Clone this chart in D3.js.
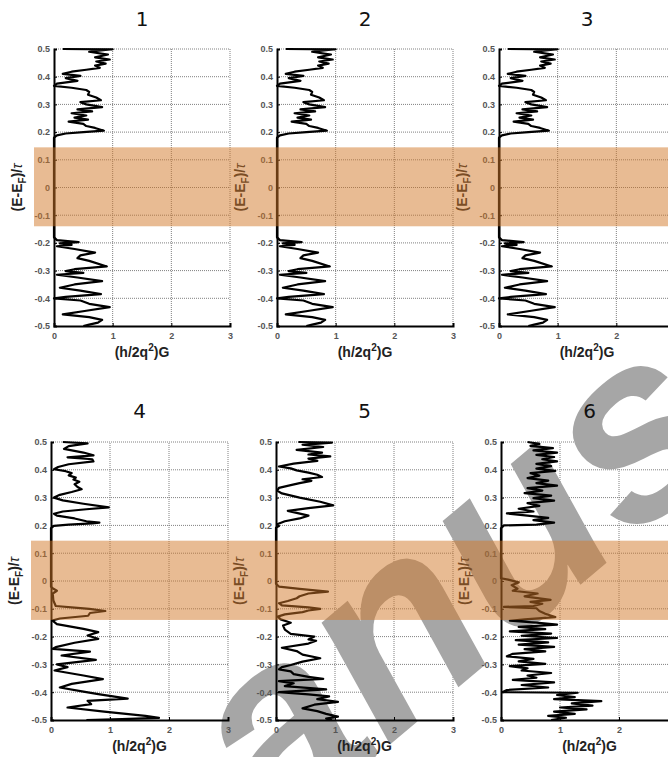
<!DOCTYPE html>
<html>
<head>
<meta charset="utf-8">
<script src="https://cdn.jsdelivr.net/npm/d3@7"></script>
<style>
  body { margin: 0; background: #fff; }
  svg { display: block; }
</style>
</head>
<body>
<svg id="fig" width="668" height="757"></svg>
<script>
// Panel titles, axis ticks and the highlighted energy window
const panelTitles = ["1", "2", "3", "4", "5", "6"];
const yTicks = [-0.5, -0.4, -0.3, -0.2, -0.1, 0, 0.1, 0.2, 0.3, 0.4, 0.5];
const xTicks = [0, 1, 2, 3];
const gapWindow = [-0.14, 0.145];

// Conductance curves: [energy (E-EF)/tau, (h/2q^2)G], ordered from top to bottom
const curve1 = [
  [0.500, 0.15], [0.499, 1.00], [0.490, 0.60], [0.480, 0.92], [0.470, 0.70], [0.462, 0.95],
  [0.455, 0.72], [0.447, 0.88], [0.440, 0.70], [0.432, 0.78], [0.425, 0.55], [0.418, 0.30],
  [0.410, 0.15], [0.403, 0.45], [0.395, 0.20], [0.385, 0.40], [0.375, 0.05], [0.367, 0.00],
  [0.360, 0.30], [0.352, 0.55], [0.345, 0.60], [0.335, 0.58], [0.325, 0.72], [0.315, 0.80],
  [0.308, 0.45], [0.300, 0.55], [0.290, 0.82], [0.282, 0.40], [0.275, 0.65], [0.268, 0.30],
  [0.260, 0.55], [0.252, 0.35], [0.245, 0.58], [0.238, 0.25], [0.230, 0.50], [0.222, 0.55],
  [0.215, 0.70], [0.205, 0.85], [0.200, 0.50], [0.195, 0.20], [0.188, 0.05], [0.180, 0.00],
  [-0.180, 0.00], [-0.190, 0.05], [-0.197, 0.42], [-0.202, 0.10], [-0.207, 0.30], [-0.212, 0.05],
  [-0.222, 0.35], [-0.235, 0.70], [-0.245, 0.45], [-0.255, 0.40], [-0.265, 0.60], [-0.285, 0.90],
  [-0.295, 0.35], [-0.302, 0.20], [-0.308, 0.50], [-0.315, 0.05], [-0.325, 0.40], [-0.338, 0.82],
  [-0.350, 0.35], [-0.362, 0.10], [-0.372, 0.45], [-0.385, 0.80], [-0.395, 0.20], [-0.400, 0.00],
  [-0.408, 0.45], [-0.420, 0.60], [-0.432, 0.95], [-0.445, 0.55], [-0.458, 0.15], [-0.468, 0.60],
  [-0.478, 0.82], [-0.488, 0.75], [-0.495, 0.60], [-0.500, 0.50]
];
const curve2 = curve1;
const curve3 = curve1;

const curve4 = [
  [0.500, 0.20], [0.495, 0.62], [0.485, 0.30], [0.475, 0.22], [0.462, 0.55], [0.452, 0.72],
  [0.445, 0.28], [0.438, 0.70], [0.430, 0.72], [0.420, 0.30], [0.410, 0.12], [0.402, 0.05],
  [0.395, 0.25], [0.388, 0.35], [0.380, 0.30], [0.372, 0.42], [0.365, 0.38], [0.357, 0.48],
  [0.348, 0.40], [0.338, 0.45], [0.330, 0.52], [0.320, 0.35], [0.310, 0.15], [0.300, 0.05],
  [0.290, 0.20], [0.278, 0.55], [0.265, 0.98], [0.258, 0.60], [0.250, 0.20], [0.242, 0.05],
  [0.235, 0.10], [0.225, 0.40], [0.215, 0.60], [0.210, 0.82], [0.207, 0.70], [0.203, 0.30],
  [0.198, 0.05], [0.190, 0.00], [-0.020, 0.00], [-0.025, 0.02], [-0.035, 0.10], [-0.045, 0.03],
  [-0.070, 0.04], [-0.090, 0.08], [-0.097, 0.45], [-0.100, 0.65], [-0.108, 0.92], [-0.115, 0.66],
  [-0.125, 0.63], [-0.135, 0.15], [-0.142, 0.02], [-0.155, 0.10], [-0.172, 0.55], [-0.184, 0.80],
  [-0.196, 0.62], [-0.208, 0.80], [-0.222, 0.40], [-0.238, 0.08], [-0.244, 0.03], [-0.254, 0.66],
  [-0.268, 0.18], [-0.284, 0.76], [-0.300, 0.10], [-0.310, 0.28], [-0.322, 0.06], [-0.340, 0.55],
  [-0.353, 0.88], [-0.370, 0.35], [-0.383, 0.15], [-0.398, 0.55], [-0.407, 0.80], [-0.423, 1.30],
  [-0.431, 0.62], [-0.443, 0.68], [-0.455, 0.28], [-0.470, 0.90], [-0.485, 1.60], [-0.492, 1.83],
  [-0.497, 1.20], [-0.500, 0.60]
];

const curve5 = [
  [0.500, 0.38], [0.498, 0.95], [0.490, 0.45], [0.482, 0.80], [0.472, 0.35], [0.462, 0.78],
  [0.455, 0.55], [0.448, 0.92], [0.440, 0.55], [0.432, 0.70], [0.422, 0.30], [0.412, 0.05],
  [0.405, 0.25], [0.398, 0.35], [0.390, 0.55], [0.382, 0.70], [0.374, 0.78], [0.366, 0.45],
  [0.360, 0.60], [0.352, 0.40], [0.345, 0.25], [0.335, 0.05], [0.325, 0.02], [0.315, 0.10],
  [0.300, 0.40], [0.285, 0.75], [0.272, 0.97], [0.262, 0.55], [0.252, 0.20], [0.245, 0.35],
  [0.235, 0.55], [0.225, 0.40], [0.215, 0.15], [0.205, 0.03], [0.198, 0.05], [0.192, 0.00],
  [-0.010, 0.00], [-0.020, 0.05], [-0.028, 0.40], [-0.038, 0.88], [-0.045, 0.55], [-0.055, 0.40],
  [-0.062, 0.35], [-0.072, 0.20], [-0.080, 0.05], [-0.088, 0.10], [-0.095, 0.55], [-0.100, 0.75],
  [-0.106, 0.55], [-0.112, 0.45], [-0.120, 0.15], [-0.128, 0.03], [-0.138, 0.08], [-0.150, 0.25],
  [-0.160, 0.12], [-0.175, 0.15], [-0.190, 0.25], [-0.200, 0.65], [-0.210, 0.55], [-0.215, 0.68],
  [-0.225, 0.55], [-0.240, 0.10], [-0.252, 0.35], [-0.265, 0.45], [-0.278, 0.75], [-0.290, 0.45],
  [-0.302, 0.25], [-0.310, 0.10], [-0.318, 0.05], [-0.325, 0.25], [-0.335, 0.30], [-0.345, 0.55],
  [-0.352, 0.80], [-0.360, 0.05], [-0.368, 0.30], [-0.378, 0.15], [-0.390, 0.85], [-0.400, 0.05],
  [-0.408, 0.55], [-0.415, 0.90], [-0.425, 0.70], [-0.435, 1.05], [-0.445, 0.65], [-0.458, 0.45],
  [-0.468, 0.70], [-0.478, 0.85], [-0.488, 1.05], [-0.495, 0.85], [-0.500, 0.95]
];

const curve6 = [
  [0.500, 0.45], [0.493, 0.65], [0.486, 0.50], [0.478, 0.88], [0.470, 0.55], [0.462, 0.95],
  [0.454, 0.60], [0.446, 0.90], [0.438, 0.70], [0.430, 0.95], [0.421, 0.60], [0.413, 0.85],
  [0.404, 0.60], [0.396, 0.92], [0.388, 0.50], [0.379, 0.65], [0.370, 0.45], [0.361, 0.80],
  [0.352, 0.60], [0.343, 0.95], [0.334, 0.45], [0.325, 0.70], [0.316, 0.40], [0.307, 0.85],
  [0.298, 0.55], [0.289, 0.90], [0.280, 0.45], [0.270, 0.65], [0.260, 0.30], [0.250, 0.55],
  [0.243, 0.10], [0.235, 0.45], [0.227, 0.80], [0.219, 0.55], [0.210, 0.90], [0.203, 0.60],
  [0.200, 0.05], [0.190, 0.00], [0.010, 0.00], [0.005, 0.12], [-0.005, 0.30],
  [-0.015, 0.18], [-0.028, 0.28], [-0.035, 0.20], [-0.045, 0.62], [-0.055, 0.40], [-0.068, 0.84],
  [-0.075, 0.50], [-0.082, 0.70], [-0.090, 0.55], [-0.093, 0.05], [-0.098, 0.60], [-0.108, 0.65],
  [-0.118, 0.75], [-0.130, 0.92], [-0.138, 0.40], [-0.143, 0.15], [-0.150, 0.60], [-0.157, 0.95],
  [-0.165, 0.30], [-0.173, 0.75], [-0.181, 0.15], [-0.189, 0.85], [-0.197, 0.35], [-0.205, 0.95],
  [-0.213, 0.25], [-0.221, 0.80], [-0.229, 0.30], [-0.237, 0.90], [-0.245, 0.40], [-0.253, 0.75],
  [-0.262, 0.20], [-0.271, 0.10], [-0.280, 0.55], [-0.289, 0.30], [-0.298, 0.75], [-0.306, 0.15],
  [-0.314, 0.45], [-0.322, 0.35], [-0.331, 0.85], [-0.340, 0.45], [-0.348, 0.60], [-0.356, 0.20],
  [-0.365, 0.90], [-0.374, 0.35], [-0.383, 0.80], [-0.392, 0.10], [-0.400, 0.02], [-0.402, 1.30],
  [-0.410, 0.95], [-0.418, 1.25], [-0.425, 0.90], [-0.432, 1.70], [-0.440, 1.20], [-0.448, 1.55],
  [-0.455, 1.00], [-0.462, 1.45], [-0.470, 0.90], [-0.478, 1.25], [-0.485, 0.80], [-0.492, 1.10],
  [-0.500, 0.85]
];

const curves = [curve1, curve2, curve3, curve4, curve5, curve6];

// Page geometry of the two rows of panels
const rows = [
  { top: 49, bottom: 326, lefts: [54, 277, 499], width: 176, bandLeft: 34, titleY: 26, xLabelY: 357 },
  { top: 442, bottom: 720, lefts: [51, 276, 501], width: 177, bandLeft: 31, titleY: 418, xLabelY: 751 }
];

const svg = d3.select("#fig");
const W = 668;

const gridLayer = svg.append("g");
const markLayer = svg.append("g");
const plotLayer = svg.append("g");
const bandLayer = svg.append("g");

// Watermark lettering running diagonally across the figure
const wm = markLayer.append("text")
  .attr("transform", "translate(-5,1076) rotate(-40)")
  .attr("font-family", "Liberation Sans, Arial, sans-serif")
  .attr("font-style", "italic")
  .attr("font-weight", "bold")
  .attr("font-size", 260)
  .attr("fill", "#a6a6a6");
wm.append("tspan").text("M");
wm.append("tspan").attr("dx", 150).text("anuscript");

const fmtTick = d => (d === 0 ? "0" : d.toFixed(1));

panelTitles.forEach((title, i) => {
  const row = rows[Math.floor(i / 3)];
  const left = row.lefts[i % 3];
  const x = d3.scaleLinear().domain([0, 3]).range([left, left + row.width]);
  const y = d3.scaleLinear().domain([-0.5, 0.5]).range([row.bottom, row.top]);

  // Dotted grid
  const g = gridLayer.append("g");
  g.selectAll("line.h").data(yTicks.filter(v => v > -0.5)).join("line")
    .attr("x1", x(0)).attr("x2", x(3))
    .attr("y1", d => y(d)).attr("y2", d => y(d))
    .attr("stroke", "#808080").attr("stroke-width", 1).attr("stroke-dasharray", "1,1");
  g.selectAll("line.v").data(xTicks.filter(v => v > 0)).join("line")
    .attr("y1", y(-0.5)).attr("y2", y(0.5))
    .attr("x1", d => x(d)).attr("x2", d => x(d))
    .attr("stroke", "#808080").attr("stroke-width", 1).attr("stroke-dasharray", "1,1");

  const p = plotLayer.append("g");

  // Conductance curve
  const line = d3.line().x(d => x(d[1])).y(d => y(d[0]));
  p.append("path")
    .datum(curves[i])
    .attr("d", line)
    .attr("fill", "none")
    .attr("stroke", "#000")
    .attr("stroke-width", 2.2)
    .attr("stroke-linejoin", "round");

  // Axes
  const yAxis = p.append("g")
    .attr("transform", `translate(${x(0)},0)`)
    .call(d3.axisLeft(y).tickValues(yTicks).tickSize(-3).tickPadding(4).tickFormat(fmtTick));
  const xAxis = p.append("g")
    .attr("transform", `translate(0,${y(-0.5)})`)
    .call(d3.axisBottom(x).tickValues(xTicks).tickSize(-3).tickPadding(7).tickFormat(d3.format("d")));
  [yAxis, xAxis].forEach(ax => {
    ax.select(".domain").attr("stroke", "#000").attr("stroke-width", 2);
    ax.selectAll(".tick line").attr("stroke", "#000").attr("stroke-width", 1);
    ax.selectAll(".tick text")
      .attr("fill", "#555")
      .attr("font-family", "Liberation Sans, Arial, sans-serif")
      .attr("font-weight", "bold")
      .attr("font-size", 9);
  });

  // Panel title
  p.append("text")
    .attr("x", (x(0) + x(3)) / 2).attr("y", row.titleY)
    .attr("text-anchor", "middle")
    .attr("font-family", "DejaVu Sans, sans-serif")
    .attr("font-size", 20)
    .attr("fill", "#111")
    .text(title);

  // x-axis label
  const xl = p.append("text")
    .attr("x", (x(0) + x(3)) / 2).attr("y", row.xLabelY)
    .attr("text-anchor", "middle")
    .attr("font-family", "Liberation Sans, Arial, sans-serif")
    .attr("font-weight", "bold")
    .attr("font-size", 14)
    .attr("fill", "#222");
  xl.append("tspan").text("(h/2q");
  xl.append("tspan").attr("font-size", 10).attr("dy", -6).text("2");
  xl.append("tspan").attr("dy", 6).text(")G");

  // y-axis label
  const yl = p.append("text")
    .attr("transform", `translate(${x(0) - 32},${(row.top + row.bottom) / 2}) rotate(-90)`)
    .attr("text-anchor", "middle")
    .attr("font-family", "Liberation Sans, Arial, sans-serif")
    .attr("font-weight", "bold")
    .attr("font-size", 14)
    .attr("fill", "#222");
  yl.append("tspan").text("(E-E");
  yl.append("tspan").attr("font-size", 10).attr("dy", 4).text("F");
  yl.append("tspan").attr("dy", -4).text(")/");
  yl.append("tspan").attr("font-weight", "normal").attr("font-style", "italic").text("τ");
});

// Highlighted energy window across each row
rows.forEach(row => {
  const y = d3.scaleLinear().domain([-0.5, 0.5]).range([row.bottom, row.top]);
  bandLayer.append("rect")
    .attr("x", row.bandLeft).attr("width", W - row.bandLeft)
    .attr("y", y(gapWindow[1])).attr("height", y(gapWindow[0]) - y(gapWindow[1]))
    .attr("fill", "rgb(210,120,40)")
    .attr("fill-opacity", 0.5);
});
</script>
</body>
</html>
